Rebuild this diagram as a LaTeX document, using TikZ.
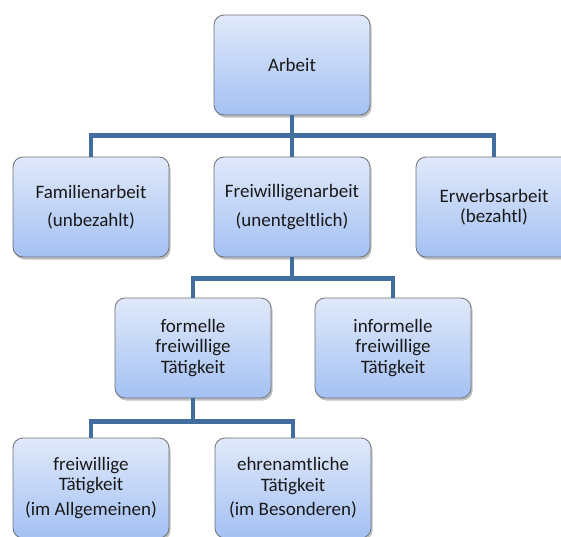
\documentclass[tikz,border=0pt]{standalone}
\usepackage{fontspec}
\setmainfont{Carlito}
\usetikzlibrary{shadows}
\definecolor{boxtop}{RGB}{224,233,250}
\definecolor{boxbot}{RGB}{164,193,243}
\definecolor{boxline}{RGB}{110,112,120}
\definecolor{linkblue}{RGB}{65,110,158}
\tikzset{
	workbox/.style={draw=boxline,line width=.8pt,rounded corners=10pt,
		top color=boxtop,bottom color=boxbot,
		minimum width=156pt,minimum height=100pt,align=center,
		text=black!90,font=\fontsize{19}{20.5}\selectfont,
		drop shadow={shadow xshift=1.5pt,shadow yshift=-2.5pt,opacity=.35,fill=black!70}},
	link/.style={draw=linkblue,line width=4.5pt}
}
\begin{document}
\begin{tikzpicture}[x=1pt,y=-1pt]
		\useasboundingbox (0,0) rectangle (561,536);
		% top
			\node[workbox] (arbeit) at (292,65) {Arbeit};
		% second row
			\node[workbox] (fam) at (91,207) {Familienarbeit\\[8pt](unbezahlt)};
			\node[workbox] (frei) at (292,207) {Freiwilligenarbeit\\[8pt](unentgeltlich)};
			\node[workbox] (erw) at (494,207) {Erwerbsarbeit\\(bezahtl)};
		% third row
			\node[workbox] (formell) at (193,348) {formelle\\freiwillige\\Tätigkeit};
			\node[workbox] (informell) at (393,348) {informelle\\freiwillige\\Tätigkeit};
		% fourth row
			\node[workbox] (allg) at (91,488) {freiwillige\\Tätigkeit\\[4pt](im Allgemeinen)};
			\node[workbox] (bes) at (293,488) {ehrenamtliche\\Tätigkeit\\[4pt](im Besonderen)};
		% tree lines
			\foreach \k in {fam,frei,erw}
				\draw[link] (arbeit.south) -- ++(0,20) -| (\k.north);
			\foreach \k in {formell,informell}
				\draw[link] (frei.south) -- ++(0,21) -| (\k.north);
			\foreach \k in {allg,bes}
				\draw[link] (formell.south) -- ++(0,23) -| (\k.north);
	\end{tikzpicture}
\end{document}
